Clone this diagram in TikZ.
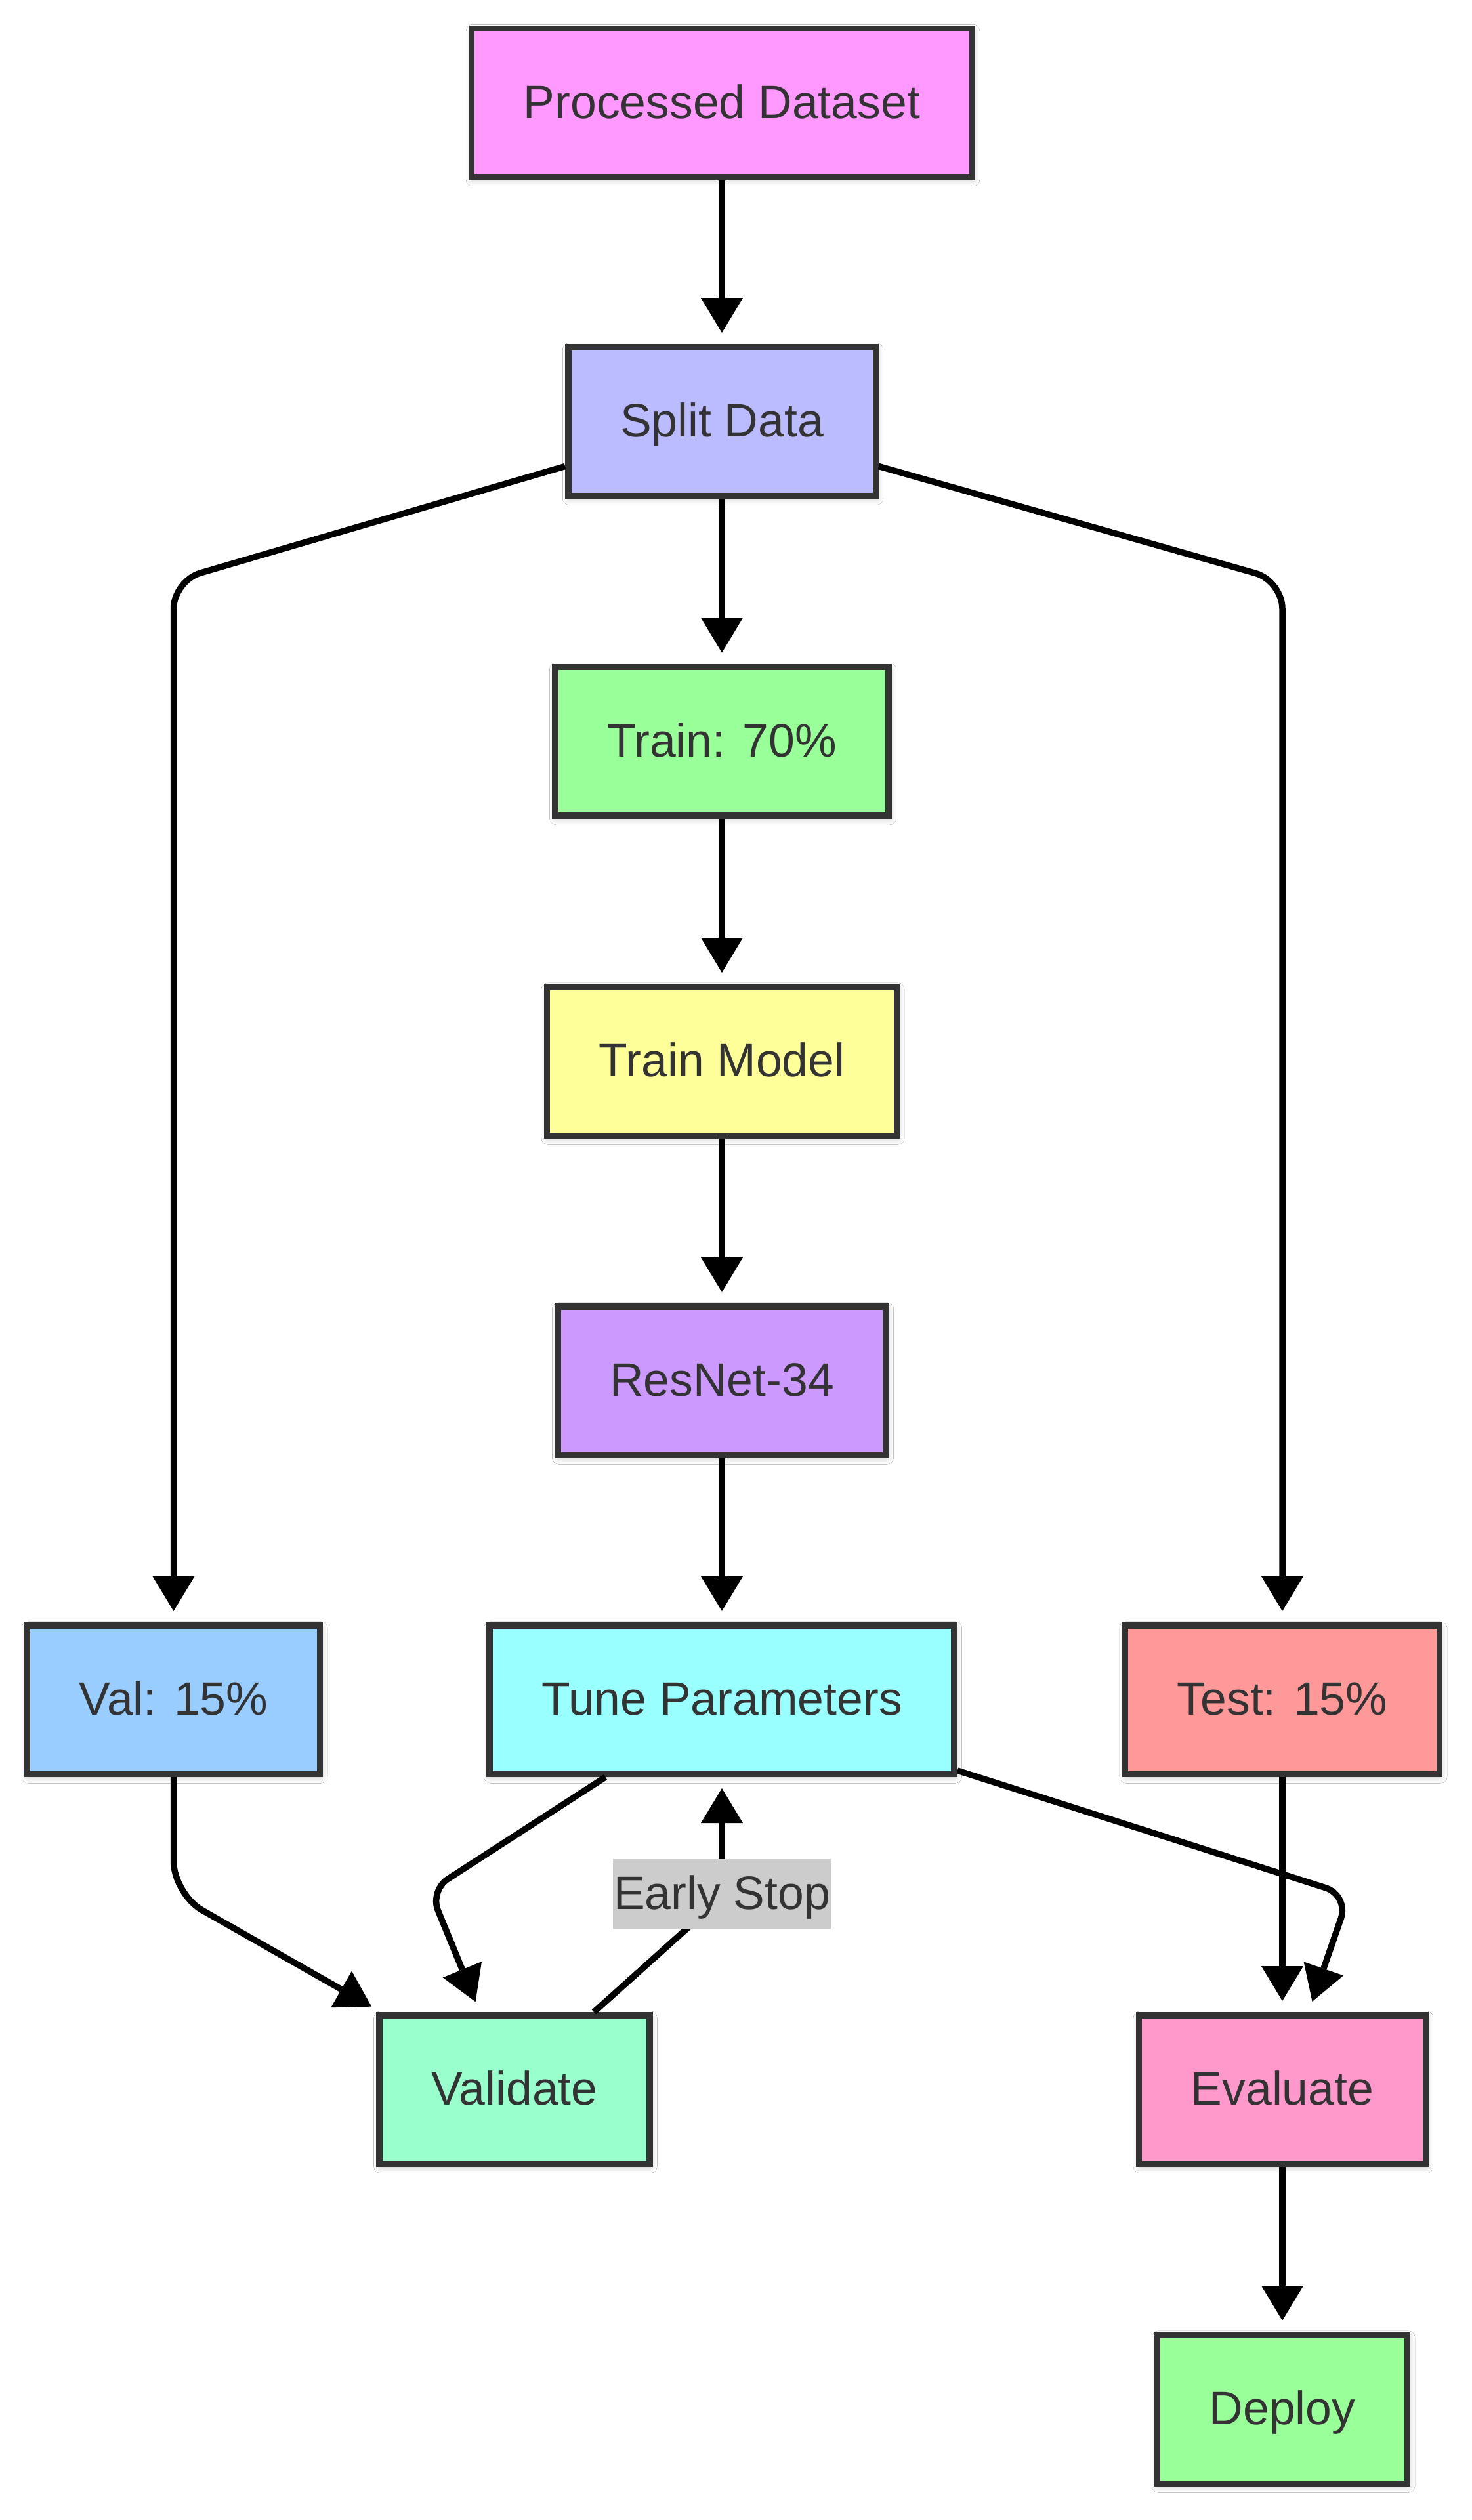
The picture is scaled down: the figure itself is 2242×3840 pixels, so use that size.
\documentclass[tikz,border=0pt]{standalone}
\usepackage{fontspec}
\setmainfont{Liberation Sans}
\usepackage{tikz}
\usetikzlibrary{calc}
\usetikzlibrary{arrows.meta}
\usetikzlibrary{shadows.blur}
\definecolor{charcoal}{RGB}{51, 51, 51}
\definecolor{orchid}{RGB}{255, 153, 255}
\definecolor{periwinkle}{RGB}{187, 187, 255}
\definecolor{mint}{RGB}{153, 255, 153}
\definecolor{lemon}{RGB}{255, 255, 153}
\definecolor{lavender}{RGB}{204, 153, 255}
\definecolor{skyblue}{RGB}{153, 204, 255}
\definecolor{aqua}{RGB}{153, 255, 255}
\definecolor{salmon}{RGB}{255, 153, 153}
\definecolor{seafoam}{RGB}{153, 255, 204}
\definecolor{rose}{RGB}{255, 153, 204}
\definecolor{labelgray}{RGB}{204, 204, 204}

\begin{document}
\begin{tikzpicture}[x=0.4pt, y=-0.4pt,
        stage/.style={draw=charcoal, line width=3.8pt, text=charcoal,
                      font=\fontsize{28.6}{34}\selectfont, text height=20.5pt, text depth=1.5pt,
                      minimum height=90.6pt, inner xsep=31.7pt, inner ysep=0pt,
                      blur shadow={shadow xshift=0.6pt, shadow yshift=-1.6pt,
                                   shadow blur radius=4pt, shadow opacity=25}},
        link/.style={line width=3.8pt, shorten >=6.8pt,
                     -{Triangle[length=21.2pt, width=25.6pt, line width=0pt]}},
        tag/.style={fill=labelgray, text=charcoal,
                    font=\fontsize{28.6}{34}\selectfont, text height=20.5pt, text depth=1.5pt,
                    minimum height=42.6pt, inner xsep=0.6pt, inner ysep=0pt}]
            % Frame to ensure alignment:
            \fill[white]                                   (0, 0) rectangle (2242, 3840);
            \useasboundingbox                              (0, 0) rectangle (2242, 3840);
            % Main column
            \node[stage, fill=orchid]     (dataset)  at (1100.0,  156.5) {Processed Dataset};
            \node[stage, fill=periwinkle] (split)    at (1100.0,  642.0) {Split Data};
            \node[stage, fill=mint]       (train)    at (1100.0, 1129.5) {Train: 70\%};
            \node[stage, fill=lemon]      (model)    at (1100.0, 1617.0) {Train Model};
            \node[stage, fill=lavender]   (resnet)   at (1100.0, 2104.0) {ResNet-34};
            % Split row
            \node[stage, fill=skyblue]    (val)      at ( 264.5, 2590.0) {Val: 15\%};
            \node[stage, fill=aqua]       (tune)     at (1100.0, 2590.0) {Tune Parameters};
            \node[stage, fill=salmon]     (test)     at (1954.0, 2590.0) {Test: 15\%};
            % Checks
            \node[stage, fill=seafoam]    (validate) at ( 784.0, 3184.0) {Validate};
            \node[stage, fill=rose]       (evaluate) at (1954.0, 3184.0) {Evaluate};
            \node[stage, fill=mint]       (deploy)   at (1954.0, 3671.0) {Deploy};
            % Straight links
            \draw[link] (dataset)  -- (split);
            \draw[link] (split)    -- (train);
            \draw[link] (train)    -- (model);
            \draw[link] (model)    -- (resnet);
            \draw[link] (resnet)   -- (tune);
            \draw[link] (test)     -- (evaluate);
            \draw[link] (evaluate) -- (deploy);
            % Split branches
            \draw[link, rounded corners=17pt] ([yshift=-27.4pt]split.west) -- (val.north |- 0,885)  -- (val);
            \draw[link, rounded corners=17pt] ([yshift=-27.4pt]split.east) -- (test.north |- 0,885) -- (test);
            % Validation loop
            \draw[link, rounded corners=20pt] (val) -- (val.south |- 0,2886) -- ([xshift=3pt]validate.north west);
            \draw[link, rounded corners=13pt] ([xshift=-71pt]tune.south) -- (655, 2881) -- ([xshift=-21.2pt]validate.north);
            \draw[link]                       ([xshift=48.4pt]validate.north) -- (tune.south |- 0,2891) -- (tune.south);
            \node[tag] (stop) at (1100.0, 2886.0) {Early Stop};
            % Final check
            \draw[link, rounded corners=15pt] ([yshift=-43.2pt]tune.east) -- (2055.5, 2888) -- ([xshift=16pt]evaluate.north);
        \end{tikzpicture}
\end{document}
